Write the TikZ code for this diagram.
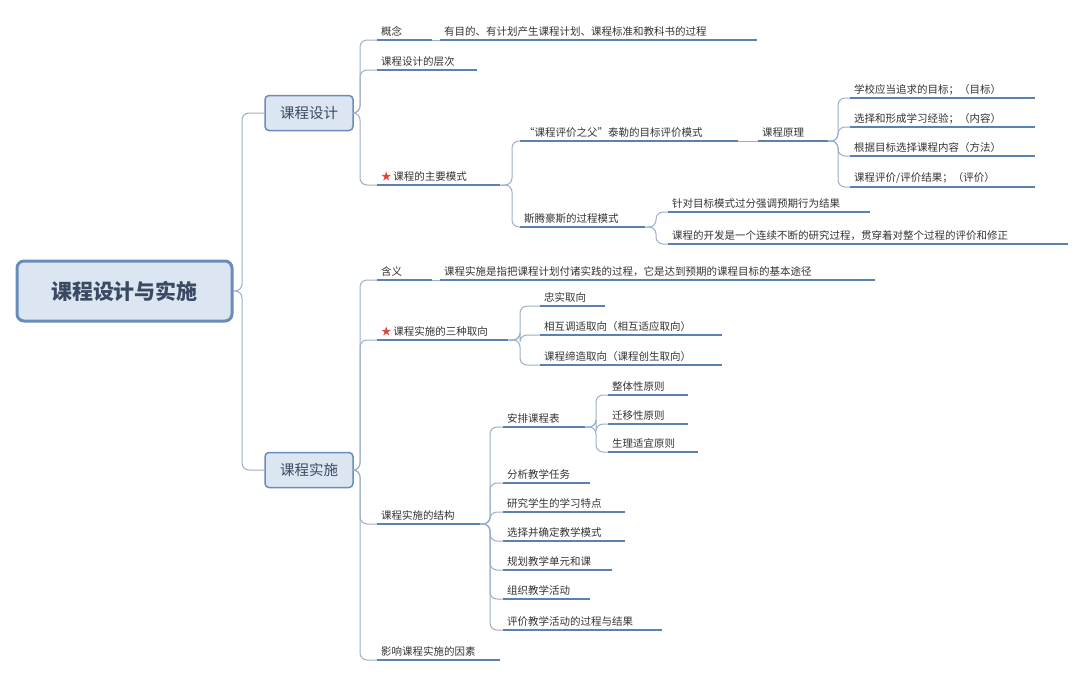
\documentclass[tikz,border=0pt]{standalone}
\usepackage{fontspec}
\setmainfont{Noto Sans CJK SC}
\definecolor{ul}{HTML}{5B80B2}
\definecolor{cn}{HTML}{9AAFC8}
\definecolor{bx}{HTML}{DCE6F2}
\definecolor{bd}{HTML}{6A8CBA}
\definecolor{tx}{HTML}{333333}
\definecolor{rt}{HTML}{3B4A63}
\definecolor{st}{HTML}{E0443A}
\tikzset{
 leaf/.style={anchor=south west,inner xsep=4pt,inner ysep=3pt,font=\fontsize{10.5}{12}\selectfont,text=tx,align=left},
 uline/.style={draw=ul,line width=2pt},
 conn/.style={draw=cn,line width=1pt,rounded corners=7pt},
 lvone/.style={draw=bd,fill=bx,rounded corners=4pt,line width=1.5pt,minimum width=88pt,minimum height=35pt,font=\fontsize{14.5}{16}\selectfont,text=rt},
}
\newcommand\lf[5]{\node[leaf,text width=#4-8pt] (#1) at (#2,#3) {#5};\draw[uline] (#1.south west)--(#1.south east);}
\newcommand\cnn[4]{\draw[conn] (#1.south east) -- (#3,#2) -- (#3,#4) -- (#1.south east -| #4 ,0);}
\newcommand\br[5]{\draw[conn] (#1) -- (#2,#3) -- (#2,#4) -- (#5.south west);}
\newcommand\stt{{\color{st}★}\,}
\begin{document}
\begin{tikzpicture}[x=1pt,y=-1pt]
\useasboundingbox (0,0) rectangle (1080,675);
% root
\node[draw=bd,fill=bx,rounded corners=7pt,line width=3pt,minimum width=215pt,minimum height=60pt,font=\fontsize{21}{24}\selectfont\bfseries,text=rt] (root) at (124.5,291) {课程设计与实施};
\node[lvone] (d) at (309,113) {课程设计};
\node[lvone] (s) at (309,470) {课程实施};
\draw[conn] (root.east) -- (242,291) -- (242,113) -- (d.west);
\draw[conn] (root.east) -- (242,291) -- (242,470) -- (s.west);
% design
\lf{a1}{377}{40}{55pt}{概念}
\lf{a1t}{440}{40}{317pt}{有目的、有计划产生课程计划、课程标准和教科书的过程}
\draw[conn] (a1.south east) -- (a1t.south west);
\lf{a2}{377}{70}{100pt}{课程设计的层次}
\lf{a3}{377}{185}{123pt}{\stt 课程的主要模式}
\br{d.east}{360}{113}{40}{a1}
\br{d.east}{360}{113}{70}{a2}
\br{d.east}{360}{113}{185}{a3}
\lf{b1}{520}{141}{218pt}{“课程评价之父”泰勒的目标评价模式}
\lf{b2}{520}{227}{125pt}{斯腾豪斯的过程模式}
\br{a3.south east}{512}{185}{141}{b1}
\br{a3.south east}{512}{185}{227}{b2}
\lf{c0}{758}{141}{70pt}{课程原理}
\draw[conn] (b1.south east) -- (c0.south west);
\lf{c1}{850}{98}{185pt}{学校应当追求的目标；（目标）}
\lf{c2}{850}{127}{185pt}{选择和形成学习经验；（内容）}
\lf{c3}{850}{156}{185pt}{根据目标选择课程内容（方法）}
\lf{c4}{850}{187}{185pt}{课程评价/评价结果；（评价）}
\foreach \n/\y in {c1/98,c2/127,c3/156,c4/187}{\br{c0.south east}{838}{141}{\y}{\n}}
\lf{e1}{668}{212}{202pt}{针对目标模式过分强调预期行为结果}
\lf{e2}{668}{244}{400pt}{课程的开发是一个连续不断的研究过程，贯穿着对整个过程的评价和修正}
\br{b2.south east}{656}{227}{212}{e1}
\br{b2.south east}{656}{227}{244}{e2}
% implementation
\lf{f1}{377}{280}{55pt}{含义}
\lf{f1t}{440}{280}{435pt}{课程实施是指把课程计划付诸实践的过程，它是达到预期的课程目标的基本途径}
\draw[conn] (f1.south east) -- (f1t.south west);
\lf{f2}{377}{340}{131pt}{\stt 课程实施的三种取向}
\lf{f3}{377}{524}{103pt}{课程实施的结构}
\lf{f4}{377}{660}{123pt}{影响课程实施的因素}
\foreach \n/\y in {f1/280,f2/340,f3/524,f4/660}{\br{s.east}{360}{470}{\y}{\n}}
\lf{g1}{540}{306}{65pt}{忠实取向}
\lf{g2}{540}{335}{182pt}{相互调适取向（相互适应取向）}
\lf{g3}{540}{365}{182pt}{课程缔造取向（课程创生取向）}
\foreach \n/\y in {g1/306,g2/335,g3/365}{\br{f2.south east}{520}{340}{\y}{\n}}
\lf{h1}{503}{427}{82pt}{安排课程表}
\lf{h2}{503}{483}{87pt}{分析教学任务}
\lf{h3}{503}{512}{122pt}{研究学生的学习特点}
\lf{h4}{503}{541}{122pt}{选择并确定教学模式}
\lf{h5}{503}{570}{109pt}{规划教学单元和课}
\lf{h6}{503}{599}{87pt}{组织教学活动}
\lf{h7}{503}{630}{159pt}{评价教学活动的过程与结果}
\foreach \n/\y in {h1/427,h2/483,h3/512,h4/541,h5/570,h6/599,h7/630}{\br{f3.south east}{490}{524}{\y}{\n}}
\lf{i1}{608}{395}{80pt}{整体性原则}
\lf{i2}{608}{424}{80pt}{迁移性原则}
\lf{i3}{608}{452}{90pt}{生理适宜原则}
\foreach \n/\y in {i1/395,i2/424,i3/452}{\br{h1.south east}{596}{427}{\y}{\n}}
\end{tikzpicture}
\end{document}
